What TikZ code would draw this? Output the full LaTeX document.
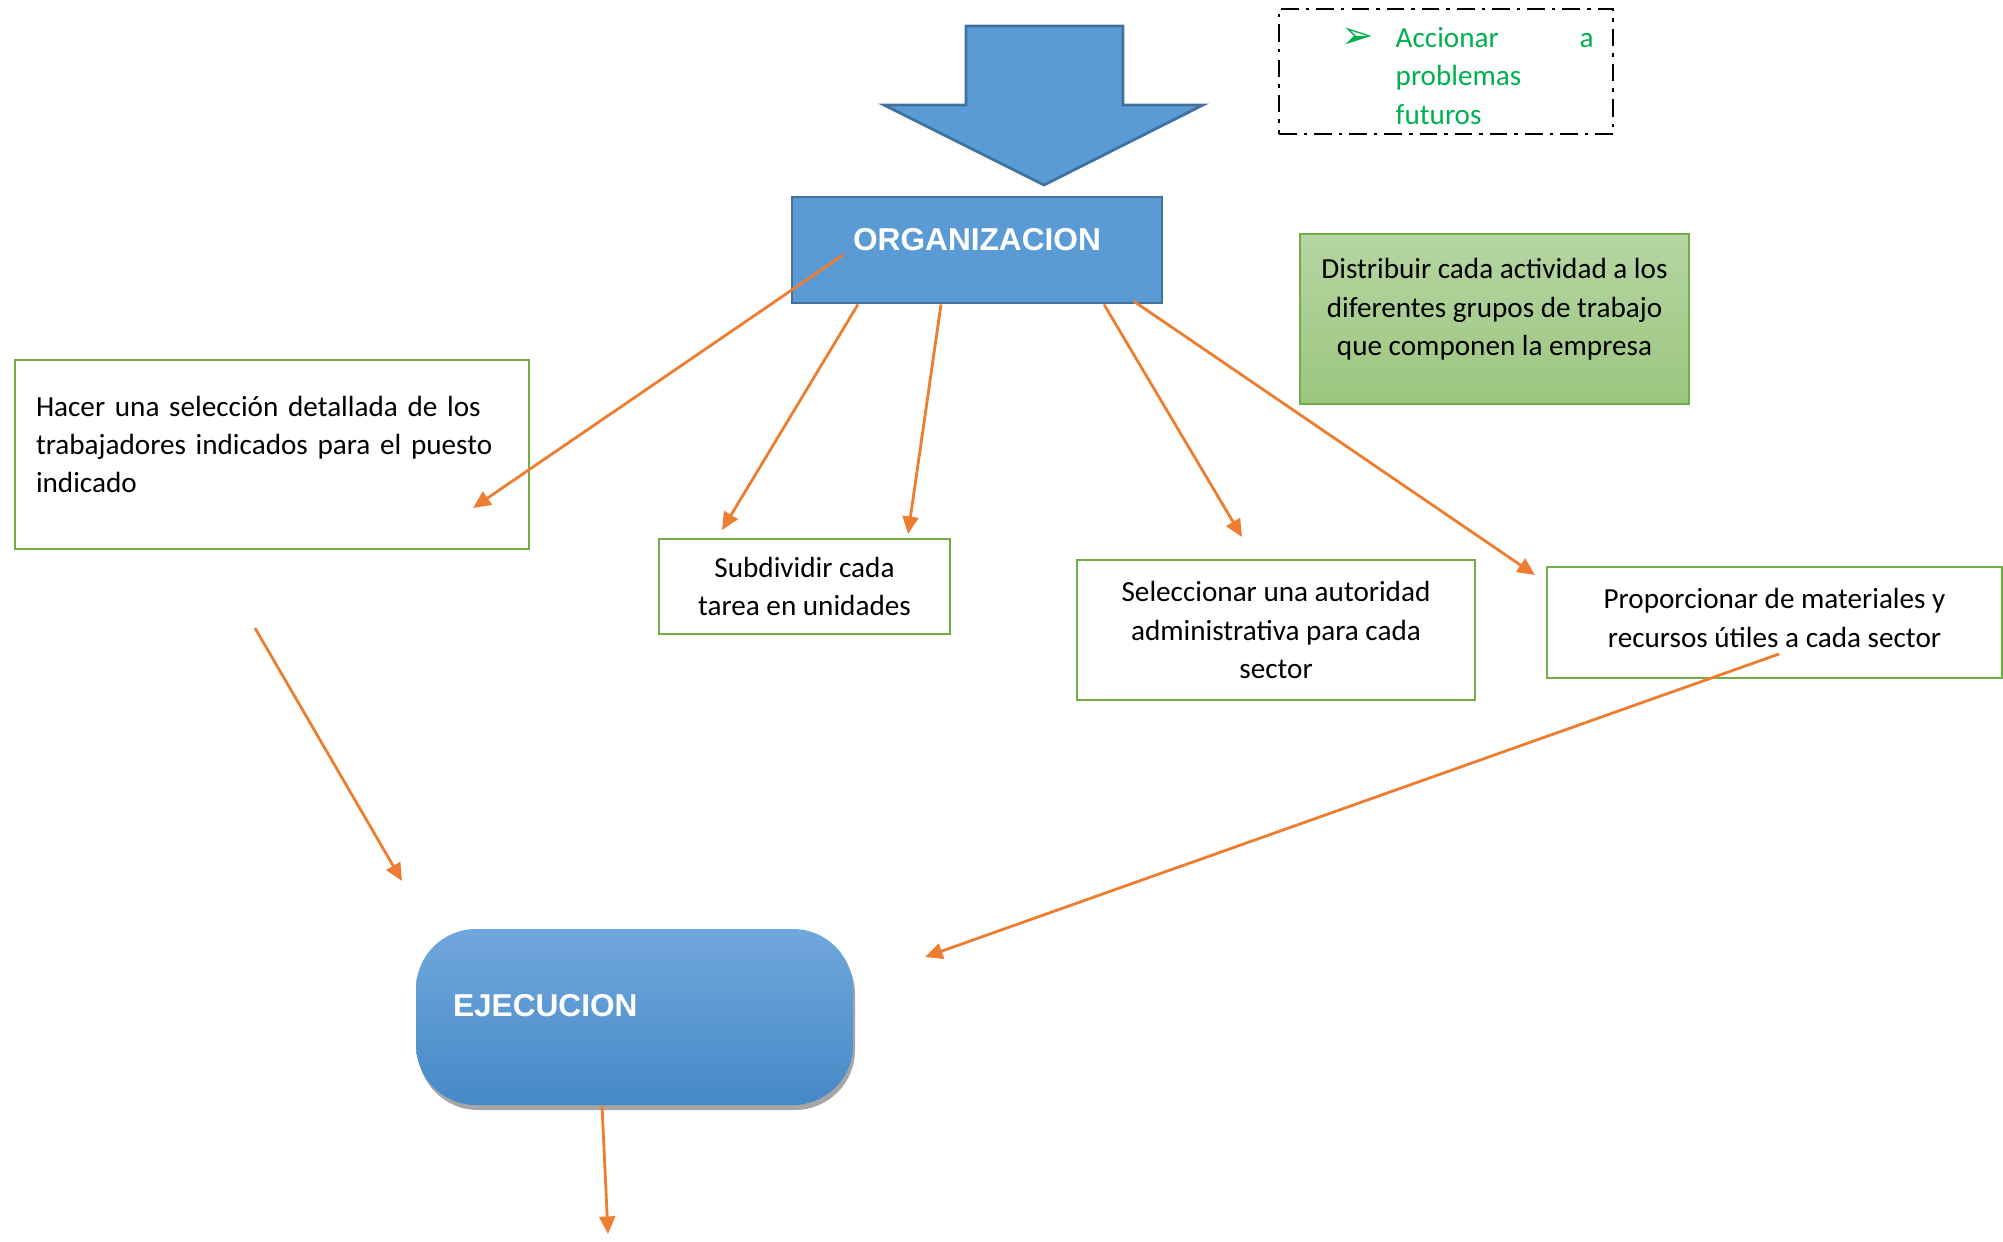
\documentclass[tikz,border=0pt]{standalone}
\usepackage{fontspec}
\setmainfont{Carlito}
\newfontfamily\titlefont{Liberation Sans}
\newfontfamily\symbolfont{DejaVu Sans}
\usetikzlibrary{arrows.meta,shadows}

\definecolor{azul}{HTML}{5B9BD5}
\definecolor{azulborde}{HTML}{41719C}
\definecolor{azulclaro}{HTML}{70A7DC}
\definecolor{azuloscuro}{HTML}{4689C8}
\definecolor{verdeclaro}{HTML}{B5D5A2}
\definecolor{verdemedio}{HTML}{9CC67F}
\definecolor{verdeborde}{HTML}{70AD47}
\definecolor{naranja}{HTML}{ED7D31}
\definecolor{verdetexto}{HTML}{00B050}

\tikzset{
  caja/.style={draw=verdeborde, line width=0.8pt, fill=white, align=center, inner sep=0pt},
  flecha/.style={draw=naranja, line width=0.8pt, -{Triangle[width=4.5pt,length=5pt]}},
  titulo/.style={font=\titlefont\bfseries\fontsize{9}{11}\selectfont, text=white},
}

\begin{document}
\begin{tikzpicture}[font=\fontsize{8.3}{10.9}\selectfont]
  \useasboundingbox (0,0) rectangle (20.03,-12.41);

  % Big arrow pointing down
  \filldraw[fill=azul, draw=azulborde, line width=0.8pt]
    (9.66,-0.26) -- (11.23,-0.26) -- (11.23,-1.05) -- (12.03,-1.05)
    -- (10.44,-1.85) -- (8.84,-1.05) -- (9.66,-1.05) -- cycle;

  % Note box
  \node[draw, line width=0.6pt, dash pattern=on 5pt off 2pt on 1pt off 2pt,
        minimum width=3.34cm, minimum height=1.25cm] (nota) at (14.46,-0.715) {};
  \node[text=verdetexto] (vineta) at (13.58,-0.38) {\symbolfont\fontsize{11}{12}\selectfont ➢};
  \node[text=verdetexto, anchor=west, text width=1.98cm, align=left, inner sep=0pt]
    (accionar) at (13.95,-0.76) {Accionar\hfill a\\problemas\\futuros};

  % Main boxes
  \node[fill=azul, draw=azulborde, line width=0.8pt, minimum width=3.70cm,
        minimum height=1.06cm, text depth=6.2pt, titulo] (org) at (9.77,-2.50) {ORGANIZACION};

  \node[caja, top color=verdeclaro, bottom color=verdemedio, draw=verdeborde,
        minimum width=3.89cm, minimum height=1.70cm, text depth=6.9pt]
    (distrib) at (14.945,-3.19) {Distribuir cada actividad a los\\diferentes grupos de trabajo\\que componen la empresa};

  \node[caja, minimum width=5.14cm, minimum height=1.89cm, text width=4.72cm, align=left,
        text depth=27.5pt]
    (hacer) at (2.72,-4.545) {Hacer una selección detallada de los\\trabajadores indicados para el puesto\\indicado};

  \node[caja, minimum width=2.91cm, minimum height=0.95cm]
    (subdiv) at (8.045,-5.865) {Subdividir cada\\tarea en unidades};

  \node[caja, minimum width=3.98cm, minimum height=1.40cm]
    (selec) at (12.76,-6.30) {Seleccionar una autoridad\\administrativa para cada\\sector};

  \node[caja, minimum width=4.55cm, minimum height=1.11cm, text depth=2.6pt]
    (propor) at (17.745,-6.225) {Proporcionar de materiales y\\recursos útiles a cada sector};

  \node[rounded corners=0.6cm, top color=azulclaro, bottom color=azuloscuro,
        drop shadow={shadow xshift=0.02cm, shadow yshift=-0.05cm, fill=black, opacity=0.35},
        minimum width=4.37cm, minimum height=1.76cm, text width=3.63cm, align=left,
        inner sep=0pt, text depth=6.5pt, titulo] (ejec) at (6.345,-10.17) {EJECUCION};

  % Free ends of the connectors
  \coordinate (o1) at (8.43,-2.55);
  \coordinate (h1) at (4.73,-5.08);
  \coordinate (s1) at (7.22,-5.30);
  \coordinate (s2) at (9.08,-5.34);
  \coordinate (e1) at (12.42,-5.37);
  \coordinate (p1) at (15.35,-5.75);
  \coordinate (h2) at (2.55,-6.28);
  \coordinate (j1) at (4.02,-8.81);
  \coordinate (p2) at (17.79,-6.54);
  \coordinate (j2) at (9.25,-9.57);
  \coordinate (fin) at (6.08,-12.34);

  % Connectors
  \draw[flecha] (o1) -- (h1);
  \draw[flecha] ([xshift=-1.19cm]org.south) -- (s1);
  \draw[flecha] ([xshift=-0.36cm]org.south) -- (s2);
  \draw[flecha] ([xshift=1.27cm]org.south) -- (e1);
  \draw[flecha] ([xshift=1.57cm,yshift=0.03cm]org.south) -- (p1);
  \draw[flecha] (h2) -- (j1);
  \draw[flecha] (p2) -- (j2);
  \draw[flecha] ([xshift=-0.325cm]ejec.south) -- (fin);
\end{tikzpicture}
\end{document}
